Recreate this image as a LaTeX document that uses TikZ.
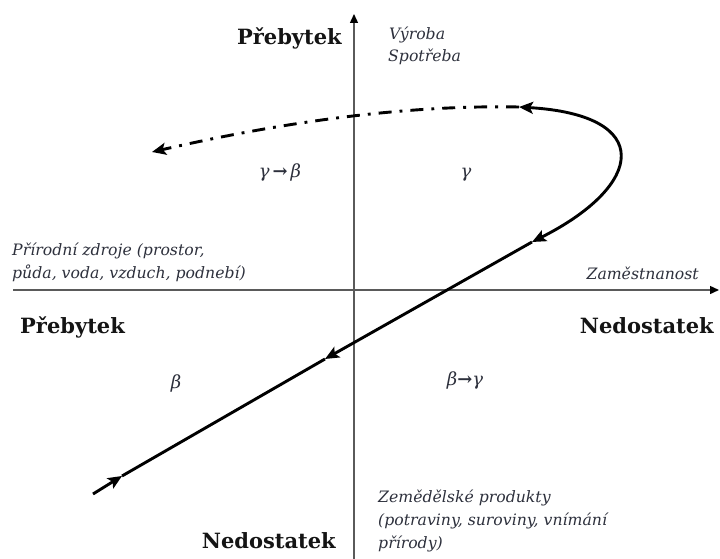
\documentclass[tikz,border=0pt]{standalone}
\usepackage{fontspec}
\setmainfont{DejaVu Serif}
\usetikzlibrary{arrows.meta}
\definecolor{axisc}{RGB}{90,90,90}
\definecolor{labc}{RGB}{45,48,60}
\definecolor{boldc}{RGB}{20,20,20}
\tikzset{
  axisline/.style={draw=axisc, line width=1.4pt, -{Triangle[length=9pt,width=8pt,fill=black,color=black]}},
  flow/.style={draw=black, line width=2.9pt},
  tip/.style={-{Stealth[length=14pt,width=12pt,inset=3pt]}},
  boldlab/.style={inner sep=0pt, text=boldc, font=\fontsize{21}{25}\selectfont\bfseries},
  itlab/.style={inner sep=0pt, text=labc, font=\fontsize{15.7}{20}\selectfont\itshape},
  greek/.style={inner sep=0pt, text=labc, font=\fontsize{18}{20}\selectfont\itshape},
}
\begin{document}
\begin{tikzpicture}[x=1pt,y=-1pt]
\useasboundingbox (0,0) rectangle (720,559);
% axes
\coordinate (xl) at (13,290);
\coordinate (xr) at (719,290);
\coordinate (yb) at (354,559);
\coordinate (yt) at (354,14);
\draw[axisline] (xl) -- (xr);
\draw[axisline] (yb) -- (yt);
% curve points
\coordinate (s) at (93,494);
\coordinate (a1) at (122,476);
\coordinate (a2) at (325,359);
\coordinate (c0) at (532,242);
\coordinate (top) at (519,107);
\coordinate (fin) at (152,152);
\draw[flow, tip] (s) -- (a1);
\draw[flow] (a1) -- (a2);
\draw[flow, tip] (c0) -- (a2);
\draw[flow, {Stealth[length=14pt,width=12pt,inset=3pt]}-{Stealth[length=14pt,width=12pt,inset=3pt]}]
  (c0) .. controls (645,185) and (655,115) .. (top);
\draw[flow, dash pattern=on 13pt off 8pt on 2.9pt off 8pt, tip]
  (top) .. controls (420,105) and (300,118) .. (fin);
% labels
\node[boldlab, anchor=base east] (pt) at (342,45) {Přebytek};
\node[boldlab, anchor=base west] (pl) at (20,333) {Přebytek};
\node[boldlab, anchor=base east] (nr) at (714,333) {Nedostatek};
\node[boldlab, anchor=base east] (nb) at (336,548) {Nedostatek};
\node[itlab, anchor=base west] (v1) at (389,40) {Výroba};
\node[itlab, anchor=base west] (v2) at (388,62) {Spotřeba};
\node[itlab, anchor=base west] (p1) at (12,255) {Přírodní zdroje (prostor,};
\node[itlab, anchor=base west] (p2) at (12,278) {půda, voda, vzduch, podnebí)};
\node[itlab, anchor=base east] (zm) at (699,279) {Zaměstnanost};
\node[itlab, anchor=base west] (z1) at (378,502) {Zemědělské produkty};
\node[itlab, anchor=base west] (z2) at (378,525) {(potraviny, suroviny, vnímání};
\node[itlab, anchor=base west] (z3) at (378,548) {přírody)};
\node[greek, anchor=base] (g1) at (280,177) {γ\,{\bfseries →}\,β};
\node[greek, anchor=base] (g2) at (466,177) {γ};
\node[greek, anchor=base] (b1) at (176,388) {β};
\node[greek, anchor=base] (b2) at (465,385) {β{\bfseries →}γ};
\end{tikzpicture}
\end{document}
